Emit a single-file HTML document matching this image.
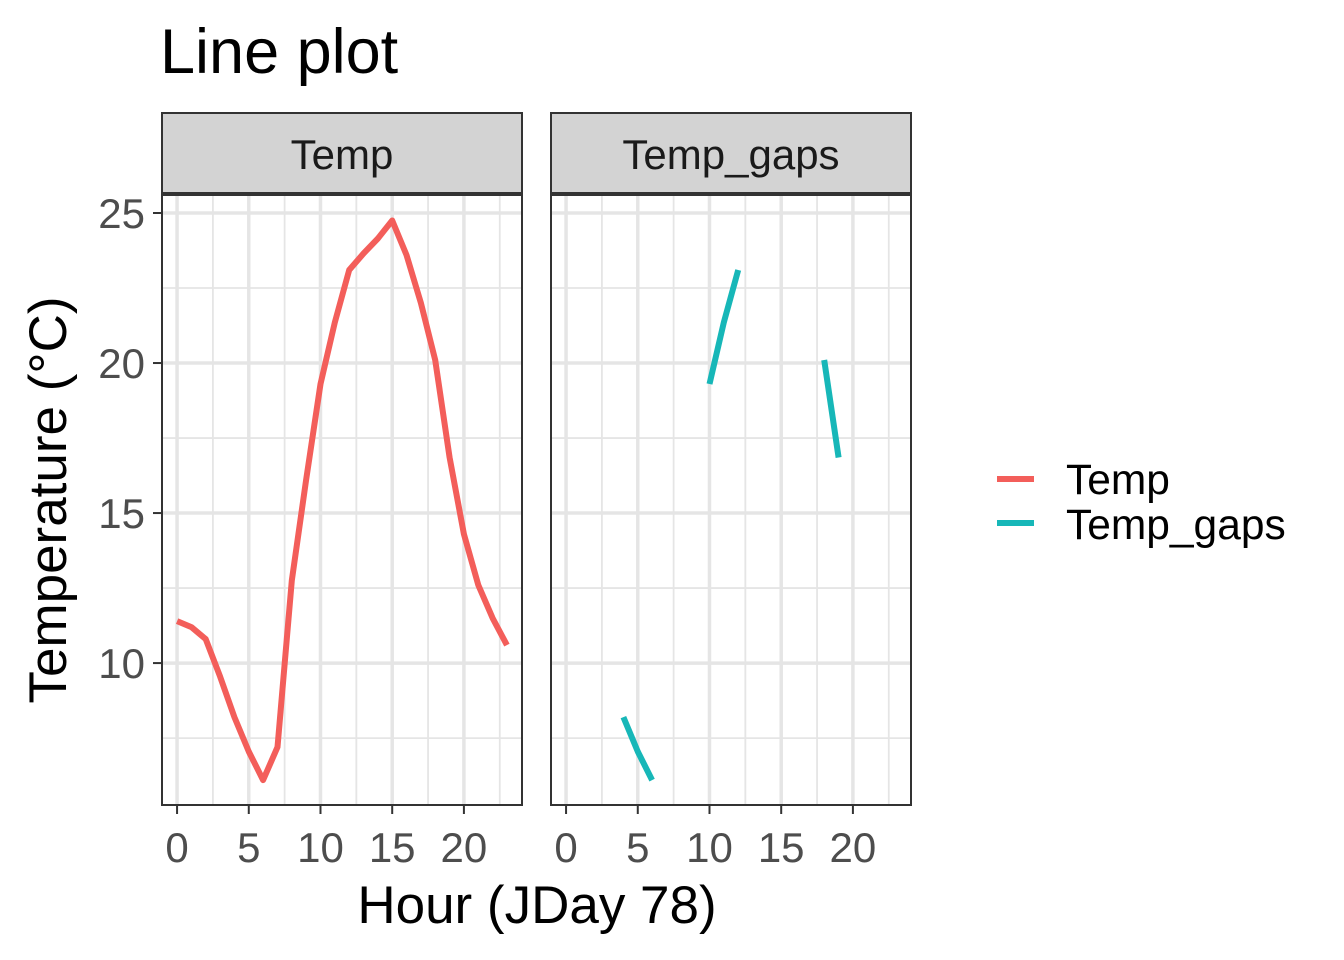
<!DOCTYPE html>
<html><head><meta charset="utf-8"><style>
body{margin:0;background:#fff;}
svg{display:block;font-family:"Liberation Sans",Arial,sans-serif;}
</style></head><body>
<svg id="chart" width="1344" height="960" viewBox="0 0 1344 960">
<rect width="1344" height="960" fill="#fff"/>
<text x="160" y="73" font-size="63" fill="#000">Line plot</text>
<g id="panels"></g>
<text x="537" y="923" font-size="53" text-anchor="middle" fill="#000">Hour (JDay 78)</text>
<text transform="translate(66,500) rotate(-90)" font-size="53" text-anchor="middle" fill="#000">Temperature (°C)</text>
<g>
<line x1="997" y1="479" x2="1034" y2="479" stroke="#F35E5A" stroke-width="6"/>
<text x="1066" y="494" font-size="42.5">Temp</text>
<line x1="997" y1="523" x2="1034" y2="523" stroke="#17B7B8" stroke-width="6"/>
<text x="1066" y="539" font-size="42.5">Temp_gaps</text>
</g>
</svg>
<script>
const hours=[0,1,2,3,4,5,6,7,8,9,10,11,12,13,14,15,16,17,18,19,20,21,22,23];
const temp=[11.4,11.2,10.8,9.55,8.2,7.05,6.1,7.2,12.75,16.1,19.3,21.35,23.1,23.65,24.15,24.75,23.6,22.0,20.1,16.85,14.3,12.6,11.5,10.6];
const tempGaps=[null,null,null,null,8.2,7.05,6.1,null,null,null,19.3,21.35,23.1,null,null,null,null,null,20.1,16.85,null,null,null,null];
const xTicks=[0,5,10,15,20];
const yTicks=[10,15,20,25];
const panelNames=["Temp","Temp_gaps"];
(function(){
const NS="http://www.w3.org/2000/svg";
const g=document.getElementById('panels');
function mk(tag,attrs,parent){const e=document.createElementNS(NS,tag);for(const k in attrs)e.setAttribute(k,attrs[k]);parent.appendChild(e);return e;}
const pTop=195,pBot=805;
const yMin=5.27,yMax=25.6;
function yS(v){return pBot-(v-yMin)/(yMax-yMin)*(pBot-pTop);}
const xMin=-1.05,xMax=24.05;
const panelsX=[162,551],pw=360;
panelNames.forEach((name,pi)=>{
  const L=panelsX[pi],R=L+pw;
  const xS=v=>L+(v-xMin)/(xMax-xMin)*pw;
  const pg=mk('g',{},g);
  
  
  mk('rect',{x:L,y:pTop,width:pw,height:pBot-pTop,fill:'#fff'},pg);
  for(let v=2.5;v<24;v+=5){const l=mk('line',{x1:xS(v),x2:xS(v),y1:pTop,y2:pBot,stroke:'#e5e5e5','stroke-width':1.8},pg);
    
    }
  for(let v=7.5;v<26;v+=5){const l=mk('line',{x1:L,x2:R,y1:yS(v),y2:yS(v),stroke:'#e5e5e5','stroke-width':1.8},pg);
    
    }
  xTicks.forEach(v=>{const l=mk('line',{x1:xS(v),x2:xS(v),y1:pTop,y2:pBot,stroke:'#e5e5e5','stroke-width':3.5},pg);
    
    
    const t=mk('line',{x1:xS(v),x2:xS(v),y1:pBot,y2:pBot+9,stroke:'#333','stroke-width':2},pg);
    
    
    const tx=mk('text',{x:xS(v),y:862,'font-size':42,'text-anchor':'middle',fill:'#4d4d4d'},pg);tx.textContent=v;
    
    });
  yTicks.forEach(v=>{const l=mk('line',{x1:L,x2:R,y1:yS(v),y2:yS(v),stroke:'#e5e5e5','stroke-width':3.5},pg);
    
    
    if(pi===0){const t=mk('line',{x1:L-9,x2:L,y1:yS(v),y2:yS(v),stroke:'#333','stroke-width':2},pg);
    
    
    const tx=mk('text',{x:L-17,y:yS(v)+15,'font-size':42,'text-anchor':'end',fill:'#4d4d4d'},pg);tx.textContent=v;
    
    }});
  const vals=pi===0?temp:tempGaps, col=pi===0?'#F35E5A':'#17B7B8';
  let segs=[],cur=[];
  hours.forEach((h,i)=>{const v=vals[i];if(v==null){if(cur.length)segs.push(cur);cur=[];}else cur.push(xS(h).toFixed(1)+','+yS(v).toFixed(1));});
  if(cur.length)segs.push(cur);
  segs.forEach(s=>{const p=mk('polyline',{points:s.join(' '),fill:'none',stroke:col,'stroke-width':6,'stroke-linejoin':'round'},pg);
    
    });
  const b=mk('rect',{x:L,y:pTop,width:pw,height:pBot-pTop,fill:'none',stroke:'#333','stroke-width':2},pg);
  
  
  const s=mk('rect',{x:L,y:113,width:pw,height:80,fill:'#d3d3d3',stroke:'#333','stroke-width':2},pg);
  
  
  const st=mk('text',{x:L+pw/2,y:169,'font-size':42,'text-anchor':'middle',fill:'#1a1a1a'},pg);st.textContent=name;
  
  
});
})();
</script>
</body></html>
